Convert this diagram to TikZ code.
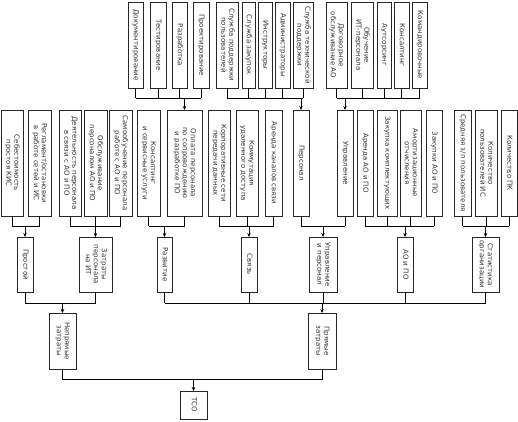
\documentclass[tikz,border=0pt]{standalone}
\usepackage{fontspec}
\setmainfont{DejaVu Sans}
\usetikzlibrary{arrows.meta}
\newcommand{\rt}[1]{\rotatebox{-90}{\begin{tabular}{@{}c@{}}#1\end{tabular}}}
\newcommand{\bx}[6]{\node[box,minimum width={(#3-#2)*1pt},minimum height={(#5-#4)*1pt}] (#1) at ({(#2+#3)/2},{(#4+#5)/2}) {\rt{#6}};}
\begin{document}
\begin{tikzpicture}[x=1pt,y=-1pt,
  box/.style={draw=black!85,line width=0.7pt,inner sep=0pt,outer sep=0pt,text=black!80,font=\fontsize{7}{8}\selectfont},
  conn/.style={line width=0.7pt},
  arr/.style={conn,-{Stealth[length=4pt,width=3.5pt]}}]
\useasboundingbox (0,0) rectangle (518,421);
% top row
\bx{doc}{128}{143}{2}{88}{Документирование}
\bx{test}{150}{166}{2}{88}{Тестирование}
\bx{razr}{172}{187}{2}{88}{Разработка}
\bx{proj}{193}{209}{2}{88}{Проектирование}
\bx{ssp}{216}{238}{2}{88}{Служба поддержки\\пользователей}
\bx{szak}{242}{255}{2}{88}{Служба закупок}
\bx{instr}{258}{272}{2}{88}{Инструкторы}
\bx{adm}{275}{290}{2}{88}{Администраторы}
\bx{stp}{293}{313}{2}{88}{Служба технической\\поддержки}
\bx{dog}{326}{347}{2}{88}{Договорное\\обслуживание АО}
\bx{obuch}{351}{373}{2}{88}{Обучение\\ИТ-персонала}
\bx{aut}{377}{391}{2}{88}{Аутсорсинг}
\bx{kons}{394}{409}{2}{88}{Консалтинг}
\bx{kom}{412}{427}{2}{88}{Командировочные}
% middle row
\bx{seb}{1}{23}{110}{216}{Себестоимость\\простоя КИС}
\bx{regl}{28}{51}{110}{216}{Регламент/остановки\\в работе сетей и ИС}
\bx{deyat}{59}{81}{110}{216}{Деятельность персонала\\в связи с АО и ПО}
\bx{obsl}{84}{107}{110}{216}{Обслуживание\\персоналом АО и ПО}
\bx{samo}{109}{132}{110}{216}{Самообучение персонала\\работе с АО и ПО}
\bx{konsm}{137}{160}{110}{216}{Консалтинг\\и сервисные услуги}
\bx{opl}{167}{202}{110}{216}{Оплата персонала\\по сопровождению\\и разработке ПО}
\bx{korp}{208}{230}{110}{216}{Корпоративные сети\\передачи данных}
\bx{komm}{236}{258}{110}{216}{Коммутация\\удаленного доступа}
\bx{arkan}{265}{282}{110}{216}{Аренда каналов связи}
\bx{pers}{293}{309}{110}{216}{Персонал}
\bx{upr}{337}{353}{110}{216}{Управление}
\bx{arao}{357}{373}{110}{216}{Аренда АО и ПО}
\bx{zakkom}{377}{397}{110}{216}{Закупка комплектующих}
\bx{amort}{400}{421}{110}{216}{Амортизационные\\отчисления}
\bx{zakao}{426}{442}{110}{216}{Закупки АО и ПО}
\bx{sred}{454}{471}{110}{216}{Средняя з/п пользователя}
\bx{kolpol}{475}{497}{110}{216}{Количество\\пользователей ИС}
\bx{kolpc}{501}{517}{110}{216}{Количество ПК}
% lower row
\bx{prost}{17}{33}{237}{292}{Простой}
\bx{zatr}{79}{112}{237}{292}{Затраты\\персонала\\на ИТ}
\bx{razv}{157}{172}{237}{292}{Развитие}
\bx{svyaz}{241}{257}{237}{292}{Связь}
\bx{uprp}{309}{337}{237}{292}{Управление\\и персонал}
\bx{aopo}{397}{413}{237}{292}{АО и ПО}
\bx{stat}{472}{499}{237}{292}{Статистика\\организации}
% bottom
\bx{nepr}{49}{76}{313}{369}{Непрямые\\затраты}
\bx{pryam}{308}{336}{313}{369}{Прямые\\затраты}
\bx{tco}{180}{207}{391}{419}{ТСО}
% bus levels
\coordinate (b1) at (0,98);
\coordinate (b2) at (0,226);
\coordinate (b3) at (0,303);
\coordinate (b4) at (0,379);
% top groups
\foreach \n in {doc,test,razr,proj,ssp,szak,instr,adm,stp,dog,obuch,aut,kons,kom}
  \draw[conn] (\n.south) -- (\n.south |- b1);
\draw[conn] (doc.south |- b1) -- (proj.south |- b1);
\draw[conn] (ssp.south |- b1) -- (stp.south |- b1);
\draw[conn] (dog.south |- b1) -- (kom.south |- b1);
\draw[arr] (opl.north |- b1) -- (opl.north);
\draw[arr] (pers.north |- b1) -- (pers.north);
\draw[arr] (upr.north |- b1) -- (upr.north);
% middle groups
\foreach \n in {seb,regl,deyat,obsl,samo,konsm,opl,korp,komm,arkan,pers,upr,arao,zakkom,amort,zakao,sred,kolpol,kolpc}
  \draw[conn] (\n.south) -- (\n.south |- b2);
\draw[conn] (seb.south |- b2) -- (regl.south |- b2);
\draw[conn] (deyat.south |- b2) -- (samo.south |- b2);
\draw[conn] (konsm.south |- b2) -- (opl.south |- b2);
\draw[conn] (korp.south |- b2) -- (arkan.south |- b2);
\draw[conn] (pers.south |- b2) -- (upr.south |- b2);
\draw[conn] (arao.south |- b2) -- (zakao.south |- b2);
\draw[conn] (sred.south |- b2) -- (kolpc.south |- b2);
\draw[arr] (prost.north |- b2) -- (prost.north);
\draw[arr] (zatr.north |- b2) -- (zatr.north);
\draw[arr] (razv.north |- b2) -- (razv.north);
\draw[arr] (svyaz.north |- b2) -- (svyaz.north);
\draw[arr] (uprp.north |- b2) -- (uprp.north);
\draw[arr] (aopo.north |- b2) -- (aopo.north);
\draw[arr] (stat.north |- b2) -- (stat.north);
% lower groups
\foreach \n in {prost,zatr,razv,svyaz,uprp,aopo,stat}
  \draw[conn] (\n.south) -- (\n.south |- b3);
\draw[conn] (prost.south |- b3) -- (zatr.south |- b3);
\draw[conn] (razv.south |- b3) -- (stat.south |- b3);
\draw[arr] (nepr.north |- b3) -- (nepr.north);
\draw[arr] (pryam.north |- b3) -- (pryam.north);
% bottom
\draw[conn] (nepr.south) -- (nepr.south |- b4) -- (pryam.south |- b4) -- (pryam.south);
\draw[arr] (tco.north |- b4) -- (tco.north);
\end{tikzpicture}
\end{document}
